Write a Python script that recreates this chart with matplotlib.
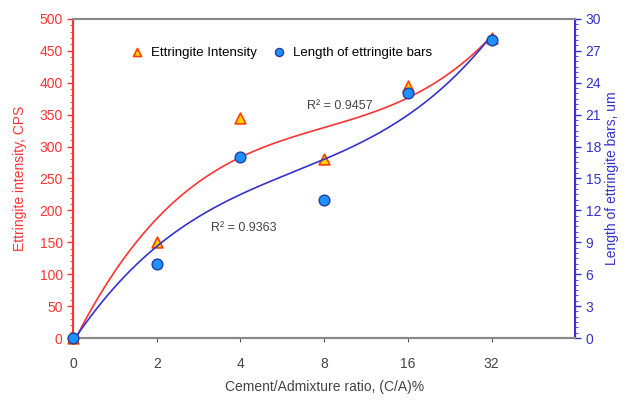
import numpy as np
import matplotlib.pyplot as plt
from matplotlib.ticker import MultipleLocator

plt.rcParams['font.family'] = ['Liberation Sans', 'DejaVu Sans']

# === DATA ===
ratio_labels = ["0", "2", "4", "8", "16", "32"]
intensity = [0, 150, 345, 280, 395, 470]      # CPS, left axis
bar_length = [0, 7, 17, 13, 23, 28]           # um, right axis
r2_intensity = "R² = 0.9457"
r2_length = "R² = 0.9363"

RED = "#ff3333"
BLUE = "#3333cc"

x = np.arange(len(ratio_labels))
xs = np.linspace(0, len(ratio_labels) - 1, 200)

# cubic trend lines, like the spreadsheet ones
fit_i = np.polyval(np.polyfit(x, intensity, 3), xs)
fit_l = np.polyval(np.polyfit(x, bar_length, 3), xs)

fig = plt.figure(figsize=(6.3, 4.01), dpi=100)
ax1 = fig.add_axes([0.116, 0.157, 0.797, 0.796])
ax2 = ax1.twinx()

ax1.plot(xs, fit_i, color=RED, lw=1.2, zorder=2)
ax2.plot(xs, fit_l, color=BLUE, lw=1.2, zorder=2)

h1 = ax1.scatter(x, intensity, marker="^", s=60, facecolor="#ffd400",
                 edgecolor="#ff4000", linewidth=1.2, zorder=4,
                 label="Ettringite Intensity", clip_on=False)
h2 = ax2.scatter(x, bar_length, marker="o", s=60, facecolor="#1e90ff",
                 edgecolor="#1f3f9f", linewidth=1.0, zorder=5,
                 label="Length of ettringite bars", clip_on=False)

ax1.set_xlim(0, 6)
ax1.set_xticks(x)
ax1.set_xticklabels(ratio_labels)
ax1.set_ylim(0, 500)
ax2.set_ylim(0, 30)
ax1.yaxis.set_major_locator(MultipleLocator(50))
ax1.yaxis.set_minor_locator(MultipleLocator(10))
ax2.yaxis.set_major_locator(MultipleLocator(3))
ax2.yaxis.set_minor_locator(MultipleLocator(0.5))

ax1.tick_params(axis="y", colors=RED, labelsize=10, length=4, width=1)
ax1.tick_params(axis="y", which="minor", colors=RED, length=2)
ax2.tick_params(axis="y", colors=BLUE, labelsize=10, length=4, width=1)
ax2.tick_params(axis="y", which="minor", colors=BLUE, length=2)
ax1.tick_params(axis="x", colors="#555555", labelcolor="#444444", labelsize=10,
                length=3, pad=11)

for ax in (ax1, ax2):
    ax.spines["top"].set_color("#888888")
    ax.spines["bottom"].set_color("#888888")
    ax.spines["top"].set_linewidth(1.5)
    ax.spines["bottom"].set_linewidth(1.5)
ax2.spines["left"].set_color(RED)
ax2.spines["left"].set_linewidth(1.5)
ax2.spines["right"].set_color(BLUE)
ax2.spines["right"].set_linewidth(1.5)

ax1.set_ylabel("Ettringite intensity, CPS", color=RED, fontsize=10, labelpad=9)
ax2.set_ylabel("Length of ettringite bars, um", color=BLUE, fontsize=10,
               labelpad=3)
ax1.set_xlabel("Cement/Admixture ratio, (C/A)%", color="#444444", fontsize=10,
               labelpad=6)

ax1.text(2.8, 358, r2_intensity, fontsize=9, color="#444444")
ax1.text(1.65, 168, r2_length, fontsize=9, color="#444444")

ax2.legend(handles=[h1, h2], loc="upper left", bbox_to_anchor=(0.078, 0.95),
           ncol=2, frameon=False, fontsize=9.5, handletextpad=0.05,
           columnspacing=0.7, markerscale=0.75)

fig.savefig("out.png", dpi=100)
